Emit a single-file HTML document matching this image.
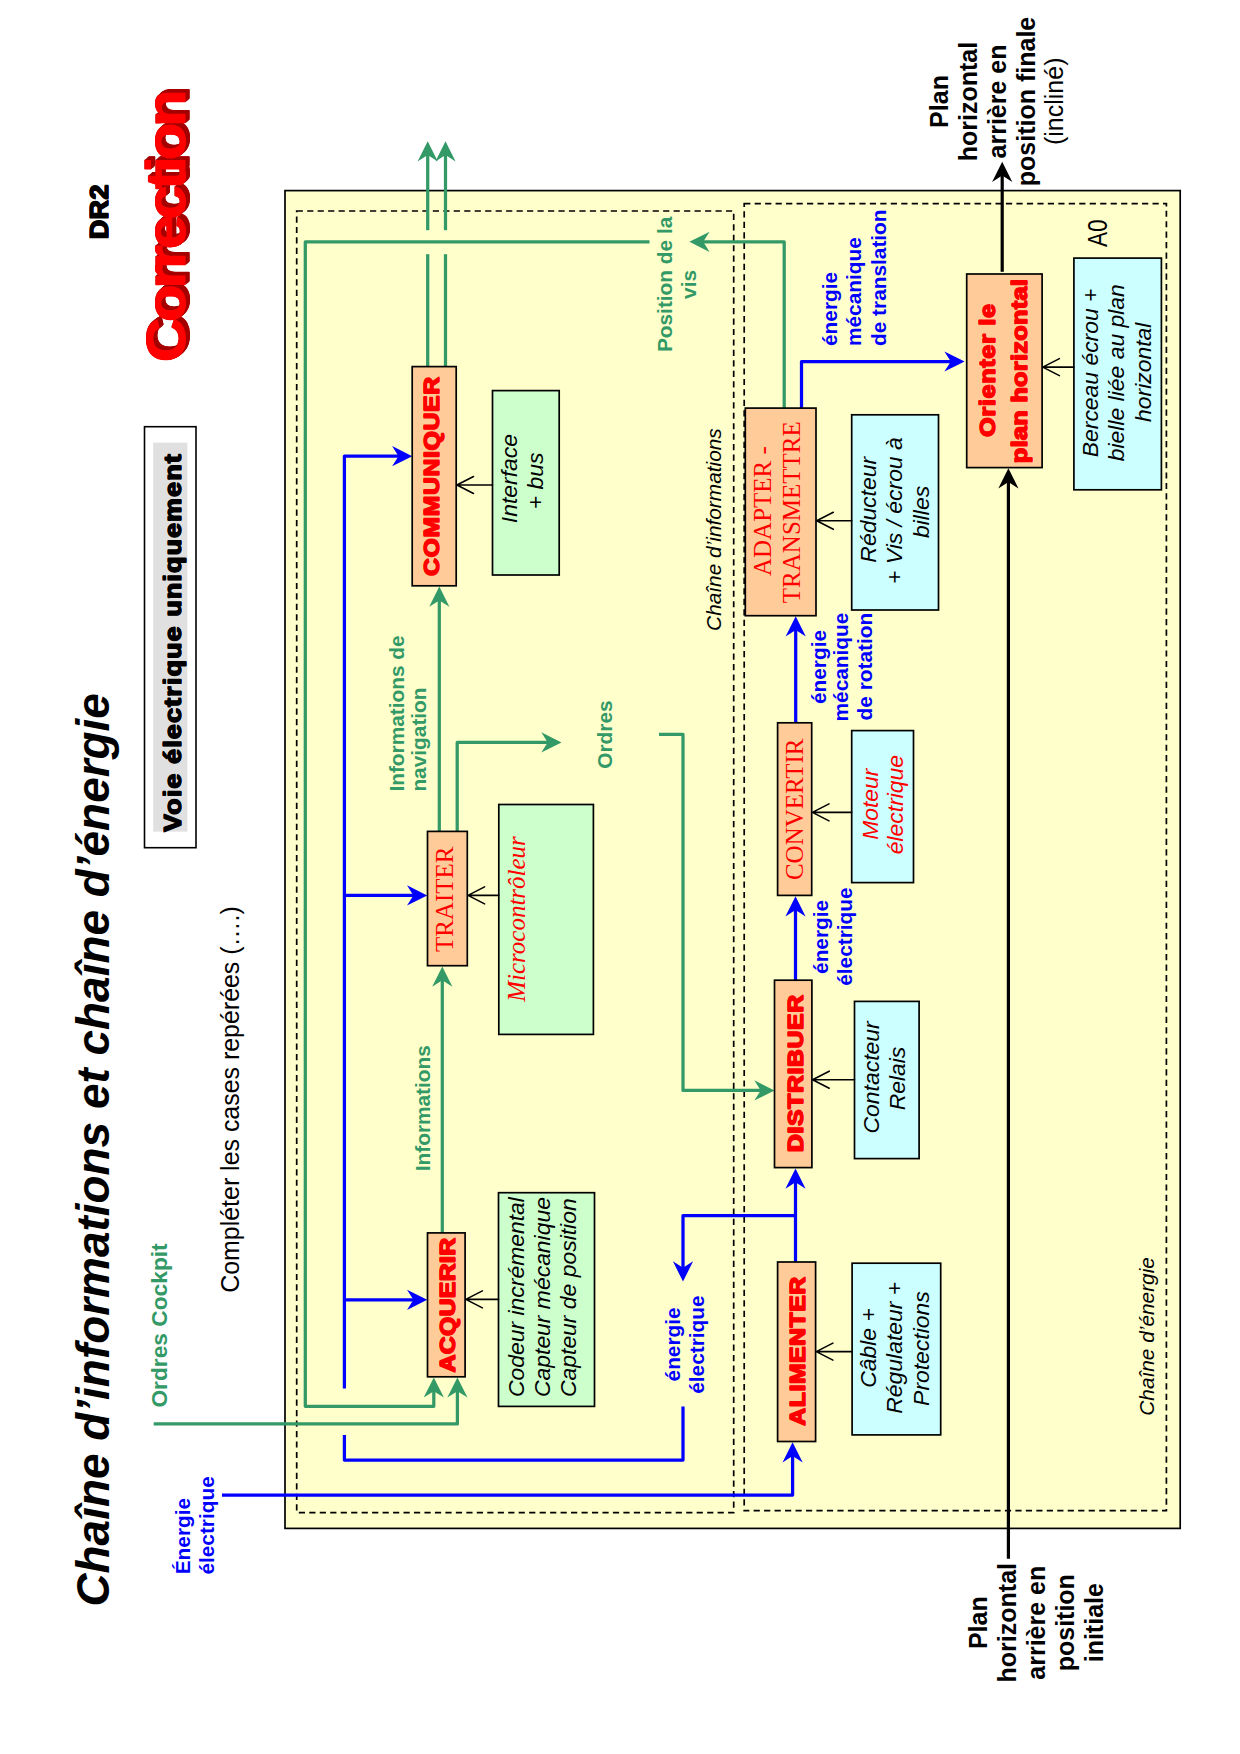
<!DOCTYPE html>
<html><head><meta charset="utf-8"><title>DR2</title>
<style>html,body{margin:0;padding:0;background:#fff}svg{display:block}text{white-space:pre}</style>
</head><body>
<svg width="1240" height="1754" viewBox="0 0 1240 1754">
<rect x="0" y="0" width="1240" height="1754" fill="#fff"/>
<rect x="285.00" y="190.60" width="895.20" height="1337.80" fill="#FFFFCC" stroke="#000" stroke-width="1.7" />
<rect x="296.70" y="211.00" width="437.00" height="1301.60" fill="none" stroke="#000" stroke-width="1.7" stroke-dasharray="6.2 4.27" stroke-linecap="butt"/>
<rect x="744.20" y="203.60" width="422.20" height="1307.10" fill="none" stroke="#000" stroke-width="1.7" stroke-dasharray="6.2 4.27" stroke-linecap="butt"/>
<polyline points="649.50,241.80 305.30,241.80 305.30,1406.30 433.80,1406.30 433.80,1389.40" fill="none" stroke="#339966" stroke-width="3.25" stroke-linejoin="round" />
<polygon points="433.80,1377.40 443.90,1397.60 433.80,1391.20 423.70,1397.60" fill="#339966"/>
<polyline points="153.70,1423.90 457.40,1423.90 457.40,1389.40" fill="none" stroke="#339966" stroke-width="3.25" stroke-linejoin="round" />
<polygon points="457.40,1377.40 467.50,1397.60 457.40,1391.20 447.30,1397.60" fill="#339966"/>
<polyline points="442.30,1233.00 442.30,978.50" fill="none" stroke="#339966" stroke-width="3.25" stroke-linejoin="round" />
<polygon points="442.30,966.50 452.40,986.70 442.30,980.30 432.20,986.70" fill="#339966"/>
<polyline points="439.30,831.50 439.30,598.60" fill="none" stroke="#339966" stroke-width="3.25" stroke-linejoin="round" />
<polygon points="439.30,586.60 449.40,606.80 439.30,600.40 429.20,606.80" fill="#339966"/>
<polyline points="457.20,831.50 457.20,742.40 549.50,742.40" fill="none" stroke="#339966" stroke-width="3.25" stroke-linejoin="round" />
<polygon points="561.50,742.40 541.30,732.30 547.70,742.40 541.30,752.50" fill="#339966"/>
<polyline points="427.70,366.60 427.70,254.20" fill="none" stroke="#339966" stroke-width="3.25" stroke-linejoin="round" />
<polyline points="427.70,230.20 427.70,153.30" fill="none" stroke="#339966" stroke-width="3.25" stroke-linejoin="round" />
<polygon points="427.70,141.30 437.80,161.50 427.70,155.10 417.60,161.50" fill="#339966"/>
<polyline points="445.50,366.60 445.50,254.20" fill="none" stroke="#339966" stroke-width="3.25" stroke-linejoin="round" />
<polyline points="445.50,230.20 445.50,153.30" fill="none" stroke="#339966" stroke-width="3.25" stroke-linejoin="round" />
<polygon points="445.50,141.30 455.60,161.50 445.50,155.10 435.40,161.50" fill="#339966"/>
<polyline points="659.00,734.30 683.00,734.30 683.00,1090.40 762.50,1090.40" fill="none" stroke="#339966" stroke-width="3.25" stroke-linejoin="round" />
<polygon points="774.50,1090.40 754.30,1080.30 760.70,1090.40 754.30,1100.50" fill="#339966"/>
<polyline points="784.20,408.00 784.20,241.80 701.40,241.80" fill="none" stroke="#339966" stroke-width="3.25" stroke-linejoin="round" />
<polygon points="689.40,241.80 709.60,231.70 703.20,241.80 709.60,251.90" fill="#339966"/>
<polyline points="222.00,1495.10 792.60,1495.10 792.60,1454.30" fill="none" stroke="#0000FF" stroke-width="3.25" stroke-linejoin="round" />
<polygon points="792.60,1442.30 802.70,1462.50 792.60,1456.10 782.50,1462.50" fill="#0000FF"/>
<polyline points="795.50,1262.00 795.50,1180.50" fill="none" stroke="#0000FF" stroke-width="3.25" stroke-linejoin="round" />
<polygon points="795.50,1168.50 805.60,1188.70 795.50,1182.30 785.40,1188.70" fill="#0000FF"/>
<polyline points="795.50,1215.60 683.00,1215.60 683.00,1269.50" fill="none" stroke="#0000FF" stroke-width="3.25" stroke-linejoin="round" />
<polygon points="683.00,1281.50 693.10,1261.30 683.00,1267.70 672.90,1261.30" fill="#0000FF"/>
<polyline points="683.00,1406.50 683.00,1460.00 344.40,1460.00 344.40,1435.00" fill="none" stroke="#0000FF" stroke-width="3.25" stroke-linejoin="round" />
<polyline points="344.40,1388.60 344.40,456.20 400.30,456.20" fill="none" stroke="#0000FF" stroke-width="3.25" stroke-linejoin="round" />
<polygon points="412.30,456.20 392.10,446.10 398.50,456.20 392.10,466.30" fill="#0000FF"/>
<polyline points="344.40,895.40 415.20,895.40" fill="none" stroke="#0000FF" stroke-width="3.25" stroke-linejoin="round" />
<polygon points="427.20,895.40 407.00,885.30 413.40,895.40 407.00,905.50" fill="#0000FF"/>
<polyline points="344.40,1299.80 415.20,1299.80" fill="none" stroke="#0000FF" stroke-width="3.25" stroke-linejoin="round" />
<polygon points="427.20,1299.80 407.00,1289.70 413.40,1299.80 407.00,1309.90" fill="#0000FF"/>
<polyline points="795.50,980.20 795.50,908.30" fill="none" stroke="#0000FF" stroke-width="3.25" stroke-linejoin="round" />
<polygon points="795.50,896.30 805.60,916.50 795.50,910.10 785.40,916.50" fill="#0000FF"/>
<polyline points="795.70,722.90 795.70,628.30" fill="none" stroke="#0000FF" stroke-width="3.25" stroke-linejoin="round" />
<polygon points="795.70,616.30 805.80,636.50 795.70,630.10 785.60,636.50" fill="#0000FF"/>
<polyline points="801.50,408.00 801.50,361.50 952.60,361.50" fill="none" stroke="#0000FF" stroke-width="3.25" stroke-linejoin="round" />
<polygon points="964.60,361.50 944.40,351.40 950.80,361.50 944.40,371.60" fill="#0000FF"/>
<polyline points="1008.40,1558.80 1008.40,480.30" fill="none" stroke="#000" stroke-width="3.2" stroke-linejoin="round" />
<polygon points="1008.40,468.30 1018.50,488.50 1008.40,482.10 998.30,488.50" fill="#000"/>
<polyline points="1002.20,271.80 1002.20,173.80" fill="none" stroke="#000" stroke-width="3.2" stroke-linejoin="round" />
<polygon points="1002.20,161.80 1012.30,182.00 1002.20,175.60 992.10,182.00" fill="#000"/>
<rect x="412.20" y="366.60" width="44.00" height="219.20" fill="#FFCC99" stroke="#000" stroke-width="1.7" />
<rect x="492.50" y="390.60" width="66.70" height="184.40" fill="#CCFFCC" stroke="#000" stroke-width="1.7" />
<rect x="427.50" y="831.40" width="39.80" height="134.30" fill="#FFCC99" stroke="#000" stroke-width="1.7" />
<rect x="498.80" y="804.50" width="94.60" height="229.90" fill="#CCFFCC" stroke="#000" stroke-width="1.7" />
<rect x="427.50" y="1232.90" width="37.60" height="143.90" fill="#FFCC99" stroke="#000" stroke-width="1.7" />
<rect x="498.50" y="1192.70" width="96.00" height="213.70" fill="#CCFFCC" stroke="#000" stroke-width="1.7" />
<rect x="745.30" y="408.10" width="70.70" height="207.60" fill="#FFCC99" stroke="#000" stroke-width="1.7" />
<rect x="851.70" y="414.80" width="86.80" height="195.20" fill="#CCFFFF" stroke="#000" stroke-width="1.7" />
<rect x="777.60" y="722.80" width="34.10" height="172.60" fill="#FFCC99" stroke="#000" stroke-width="1.7" />
<rect x="851.70" y="730.60" width="61.80" height="152.00" fill="#CCFFFF" stroke="#000" stroke-width="1.7" />
<rect x="774.50" y="980.20" width="37.40" height="187.40" fill="#FFCC99" stroke="#000" stroke-width="1.7" />
<rect x="854.50" y="1001.40" width="64.60" height="157.20" fill="#CCFFFF" stroke="#000" stroke-width="1.7" />
<rect x="777.60" y="1262.00" width="38.00" height="179.50" fill="#FFCC99" stroke="#000" stroke-width="1.7" />
<rect x="852.10" y="1263.20" width="88.60" height="171.70" fill="#CCFFFF" stroke="#000" stroke-width="1.7" />
<rect x="966.70" y="274.00" width="75.40" height="193.60" fill="#FFCC99" stroke="#000" stroke-width="1.7" />
<rect x="1073.90" y="258.10" width="87.50" height="231.70" fill="#CCFFFF" stroke="#000" stroke-width="1.7" />
<path d="M492.50,485.00 L456.90,485.00 M473.50,476.50 L456.90,485.00 L473.50,493.50" fill="none" stroke="#000" stroke-width="1.6" stroke-linecap="round" stroke-linejoin="round"/>
<path d="M498.80,895.40 L468.00,895.40 M484.60,886.90 L468.00,895.40 L484.60,903.90" fill="none" stroke="#000" stroke-width="1.6" stroke-linecap="round" stroke-linejoin="round"/>
<path d="M498.50,1299.40 L465.80,1299.40 M482.40,1290.90 L465.80,1299.40 L482.40,1307.90" fill="none" stroke="#000" stroke-width="1.6" stroke-linecap="round" stroke-linejoin="round"/>
<path d="M851.70,520.80 L816.70,520.80 M833.30,512.30 L816.70,520.80 L833.30,529.30" fill="none" stroke="#000" stroke-width="1.6" stroke-linecap="round" stroke-linejoin="round"/>
<path d="M851.70,812.40 L812.40,812.40 M829.00,803.90 L812.40,812.40 L829.00,820.90" fill="none" stroke="#000" stroke-width="1.6" stroke-linecap="round" stroke-linejoin="round"/>
<path d="M854.50,1079.70 L812.60,1079.70 M829.20,1071.20 L812.60,1079.70 L829.20,1088.20" fill="none" stroke="#000" stroke-width="1.6" stroke-linecap="round" stroke-linejoin="round"/>
<path d="M852.20,1351.60 L816.30,1351.60 M832.90,1343.10 L816.30,1351.60 L832.90,1360.10" fill="none" stroke="#000" stroke-width="1.6" stroke-linecap="round" stroke-linejoin="round"/>
<path d="M1073.90,367.10 L1042.80,367.10 M1059.40,358.60 L1042.80,367.10 L1059.40,375.60" fill="none" stroke="#000" stroke-width="1.6" stroke-linecap="round" stroke-linejoin="round"/>
<text transform="translate(109.40,1606.60) rotate(-90)" font-family='"Liberation Sans", sans-serif' font-size="45.833333333333336" fill="#000" text-anchor="start" font-weight="bold" font-style="italic" textLength="913.50" lengthAdjust="spacingAndGlyphs" >Chaîne d’informations et chaîne d’énergie</text>
<text transform="translate(189.30,358.40) rotate(-90) scale(1.1,1)" font-family='"Liberation Sans", sans-serif' font-size="55.9" fill="#A50000" text-anchor="start" font-weight="bold" stroke="#A50000" stroke-width="1.1" stroke-linejoin="round" letter-spacing="-3.85">Correction</text>
<text transform="translate(188.86,358.78) rotate(-90) scale(1.1,1)" font-family='"Liberation Sans", sans-serif' font-size="55.9" fill="#A50000" text-anchor="start" font-weight="bold" stroke="#A50000" stroke-width="1.1" stroke-linejoin="round" letter-spacing="-3.85">Correction</text>
<text transform="translate(188.42,359.16) rotate(-90) scale(1.1,1)" font-family='"Liberation Sans", sans-serif' font-size="55.9" fill="#A50000" text-anchor="start" font-weight="bold" stroke="#A50000" stroke-width="1.1" stroke-linejoin="round" letter-spacing="-3.85">Correction</text>
<text transform="translate(187.98,359.54) rotate(-90) scale(1.1,1)" font-family='"Liberation Sans", sans-serif' font-size="55.9" fill="#A50000" text-anchor="start" font-weight="bold" stroke="#A50000" stroke-width="1.1" stroke-linejoin="round" letter-spacing="-3.85">Correction</text>
<text transform="translate(187.54,359.92) rotate(-90) scale(1.1,1)" font-family='"Liberation Sans", sans-serif' font-size="55.9" fill="#A50000" text-anchor="start" font-weight="bold" stroke="#A50000" stroke-width="1.1" stroke-linejoin="round" letter-spacing="-3.85">Correction</text>
<text transform="translate(187.10,360.30) rotate(-90) scale(1.1,1)" font-family='"Liberation Sans", sans-serif' font-size="55.9" fill="#A50000" text-anchor="start" font-weight="bold" stroke="#A50000" stroke-width="1.1" stroke-linejoin="round" letter-spacing="-3.85">Correction</text>
<text transform="translate(186.66,360.68) rotate(-90) scale(1.1,1)" font-family='"Liberation Sans", sans-serif' font-size="55.9" fill="#A50000" text-anchor="start" font-weight="bold" stroke="#A50000" stroke-width="1.1" stroke-linejoin="round" letter-spacing="-3.85">Correction</text>
<text transform="translate(186.22,361.06) rotate(-90) scale(1.1,1)" font-family='"Liberation Sans", sans-serif' font-size="55.9" fill="#A50000" text-anchor="start" font-weight="bold" stroke="#A50000" stroke-width="1.1" stroke-linejoin="round" letter-spacing="-3.85">Correction</text>
<text transform="translate(185.78,361.44) rotate(-90) scale(1.1,1)" font-family='"Liberation Sans", sans-serif' font-size="55.9" fill="#A50000" text-anchor="start" font-weight="bold" stroke="#A50000" stroke-width="1.1" stroke-linejoin="round" letter-spacing="-3.85">Correction</text>
<text transform="translate(185.34,361.82) rotate(-90) scale(1.1,1)" font-family='"Liberation Sans", sans-serif' font-size="55.9" fill="#A50000" text-anchor="start" font-weight="bold" stroke="#A50000" stroke-width="1.1" stroke-linejoin="round" letter-spacing="-3.85">Correction</text>
<text transform="translate(184.90,362.20) rotate(-90) scale(1.1,1)" font-family='"Liberation Sans", sans-serif' font-size="55.9" fill="#FF0000" text-anchor="start" font-weight="bold" stroke="#FF0000" stroke-width="1.1" stroke-linejoin="round" letter-spacing="-3.85">Correction</text>
<rect x="144.50" y="426.70" width="51.50" height="421.00" fill="#fff" stroke="#000" stroke-width="1.6" />
<rect x="153.2" y="442.6" width="34.2" height="389.0" fill="#E0E0E0"/>
<text transform="translate(181.00,831.45) rotate(-90) scale(1.085,1)" font-family='"Liberation Sans", sans-serif' font-size="24.6" fill="#000" text-anchor="start" font-weight="bold" textLength="347.93" lengthAdjust="spacing" stroke="#000" stroke-width="0.9" stroke-linejoin="round" >Voie électrique uniquement</text>
<text transform="translate(181.00,832.15) rotate(-90) scale(1.085,1)" font-family='"Liberation Sans", sans-serif' font-size="24.6" fill="#000" text-anchor="start" font-weight="bold" textLength="347.93" lengthAdjust="spacing" stroke="#000" stroke-width="0.9" stroke-linejoin="round" >Voie électrique uniquement</text>
<text transform="translate(238.60,1292.80) rotate(-90)" font-family='"Liberation Sans", sans-serif' font-size="25.0" fill="#000" text-anchor="start" textLength="386.50" lengthAdjust="spacingAndGlyphs" >Compléter les cases repérées (….)</text>
<text transform="translate(166.80,1407.60) rotate(-90)" font-family='"Liberation Sans", sans-serif' font-size="22.916666666666668" fill="#339966" text-anchor="start" font-weight="bold" textLength="164.30" lengthAdjust="spacingAndGlyphs" >Ordres Cockpit</text>
<text transform="translate(190.40,1574.30) rotate(-90)" font-family='"Liberation Sans", sans-serif' font-size="20.833333333333336" fill="#0000FF" text-anchor="start" font-weight="bold" >Énergie</text>
<text transform="translate(214.20,1574.60) rotate(-90)" font-family='"Liberation Sans", sans-serif' font-size="20.833333333333336" fill="#0000FF" text-anchor="start" font-weight="bold" >électrique</text>
<text transform="translate(439.00,476.00) rotate(-90) scale(1.07,1)" font-family='"Liberation Sans", sans-serif' font-size="22.916666666666668" fill="#FF0000" text-anchor="middle" font-weight="bold" textLength="185.98" lengthAdjust="spacing" stroke="#FF0000" stroke-width="1.0" stroke-linejoin="round" >COMMUNIQUER</text>
<text transform="translate(439.00,476.80) rotate(-90) scale(1.07,1)" font-family='"Liberation Sans", sans-serif' font-size="22.916666666666668" fill="#FF0000" text-anchor="middle" font-weight="bold" textLength="185.98" lengthAdjust="spacing" stroke="#FF0000" stroke-width="1.0" stroke-linejoin="round" >COMMUNIQUER</text>
<text transform="translate(455.30,1304.70) rotate(-90) scale(1.07,1)" font-family='"Liberation Sans", sans-serif' font-size="22.916666666666668" fill="#FF0000" text-anchor="middle" font-weight="bold" textLength="125.51" lengthAdjust="spacing" stroke="#FF0000" stroke-width="1.0" stroke-linejoin="round" >ACQUERIR</text>
<text transform="translate(455.30,1305.50) rotate(-90) scale(1.07,1)" font-family='"Liberation Sans", sans-serif' font-size="22.916666666666668" fill="#FF0000" text-anchor="middle" font-weight="bold" textLength="125.51" lengthAdjust="spacing" stroke="#FF0000" stroke-width="1.0" stroke-linejoin="round" >ACQUERIR</text>
<text transform="translate(803.00,1073.10) rotate(-90) scale(1.07,1)" font-family='"Liberation Sans", sans-serif' font-size="22.916666666666668" fill="#FF0000" text-anchor="middle" font-weight="bold" textLength="146.73" lengthAdjust="spacing" stroke="#FF0000" stroke-width="1.0" stroke-linejoin="round" >DISTRIBUER</text>
<text transform="translate(803.00,1073.90) rotate(-90) scale(1.07,1)" font-family='"Liberation Sans", sans-serif' font-size="22.916666666666668" fill="#FF0000" text-anchor="middle" font-weight="bold" textLength="146.73" lengthAdjust="spacing" stroke="#FF0000" stroke-width="1.0" stroke-linejoin="round" >DISTRIBUER</text>
<text transform="translate(805.20,1350.80) rotate(-90) scale(1.07,1)" font-family='"Liberation Sans", sans-serif' font-size="22.916666666666668" fill="#FF0000" text-anchor="middle" font-weight="bold" textLength="138.97" lengthAdjust="spacing" stroke="#FF0000" stroke-width="1.0" stroke-linejoin="round" >ALIMENTER</text>
<text transform="translate(805.20,1351.60) rotate(-90) scale(1.07,1)" font-family='"Liberation Sans", sans-serif' font-size="22.916666666666668" fill="#FF0000" text-anchor="middle" font-weight="bold" textLength="138.97" lengthAdjust="spacing" stroke="#FF0000" stroke-width="1.0" stroke-linejoin="round" >ALIMENTER</text>
<text transform="translate(994.80,370.00) rotate(-90) scale(1.09,1)" font-family='"Liberation Sans", sans-serif' font-size="22.916666666666668" fill="#FF0000" text-anchor="middle" font-weight="bold" textLength="122.02" lengthAdjust="spacing" stroke="#FF0000" stroke-width="1.0" stroke-linejoin="round" >Orienter le</text>
<text transform="translate(994.80,370.80) rotate(-90) scale(1.09,1)" font-family='"Liberation Sans", sans-serif' font-size="22.916666666666668" fill="#FF0000" text-anchor="middle" font-weight="bold" textLength="122.02" lengthAdjust="spacing" stroke="#FF0000" stroke-width="1.0" stroke-linejoin="round" >Orienter le</text>
<text transform="translate(1026.80,370.70) rotate(-90) scale(1.09,1)" font-family='"Liberation Sans", sans-serif' font-size="22.916666666666668" fill="#FF0000" text-anchor="middle" font-weight="bold" textLength="168.81" lengthAdjust="spacing" stroke="#FF0000" stroke-width="1.0" stroke-linejoin="round" >plan horizontal</text>
<text transform="translate(1026.80,371.50) rotate(-90) scale(1.09,1)" font-family='"Liberation Sans", sans-serif' font-size="22.916666666666668" fill="#FF0000" text-anchor="middle" font-weight="bold" textLength="168.81" lengthAdjust="spacing" stroke="#FF0000" stroke-width="1.0" stroke-linejoin="round" >plan horizontal</text>
<text transform="translate(108.40,211.45) rotate(-90) scale(1.07,1)" font-family='"Liberation Sans", sans-serif' font-size="25.0" fill="#000" text-anchor="middle" font-weight="bold" textLength="50.93" lengthAdjust="spacing" stroke="#000" stroke-width="1.0" stroke-linejoin="round" >DR2</text>
<text transform="translate(108.40,212.25) rotate(-90) scale(1.07,1)" font-family='"Liberation Sans", sans-serif' font-size="25.0" fill="#000" text-anchor="middle" font-weight="bold" textLength="50.93" lengthAdjust="spacing" stroke="#000" stroke-width="1.0" stroke-linejoin="round" >DR2</text>
<text transform="translate(453.20,899.30) rotate(-90)" font-family='"Liberation Serif", serif' font-size="25.0" fill="#FF0000" text-anchor="middle" >TRAITER</text>
<text transform="translate(803.10,809.30) rotate(-90)" font-family='"Liberation Serif", serif' font-size="25.0" fill="#FF0000" text-anchor="middle" >CONVERTIR</text>
<text transform="translate(771.20,511.10) rotate(-90)" font-family='"Liberation Serif", serif' font-size="25.0" fill="#FF0000" text-anchor="middle" >ADAPTER -</text>
<text transform="translate(800.30,512.20) rotate(-90)" font-family='"Liberation Serif", serif' font-size="25.0" fill="#FF0000" text-anchor="middle" >TRANSMETTRE</text>
<text transform="translate(524.80,919.00) rotate(-90)" font-family='"Liberation Serif", serif' font-size="25.0" fill="#FF0000" text-anchor="middle" font-style="italic" >Microcontrôleur</text>
<text transform="translate(517.10,478.60) rotate(-90)" font-family='"Liberation Sans", sans-serif' font-size="22.916666666666668" fill="#000" text-anchor="middle" font-style="italic" >Interface</text>
<text transform="translate(542.90,481.00) rotate(-90)" font-family='"Liberation Sans", sans-serif' font-size="22.916666666666668" fill="#000" text-anchor="middle" font-style="italic" >+ bus</text>
<text transform="translate(523.80,1397.00) rotate(-90)" font-family='"Liberation Sans", sans-serif' font-size="22.916666666666668" fill="#000" text-anchor="start" font-style="italic" >Codeur incrémental</text>
<text transform="translate(550.10,1397.00) rotate(-90)" font-family='"Liberation Sans", sans-serif' font-size="22.916666666666668" fill="#000" text-anchor="start" font-style="italic" >Capteur mécanique</text>
<text transform="translate(576.30,1397.00) rotate(-90)" font-family='"Liberation Sans", sans-serif' font-size="22.916666666666668" fill="#000" text-anchor="start" font-style="italic" >Capteur de position</text>
<text transform="translate(875.60,509.80) rotate(-90)" font-family='"Liberation Sans", sans-serif' font-size="22.916666666666668" fill="#000" text-anchor="middle" font-style="italic" >Réducteur</text>
<text transform="translate(902.10,510.60) rotate(-90)" font-family='"Liberation Sans", sans-serif' font-size="22.916666666666668" fill="#000" text-anchor="middle" font-style="italic" >+ Vis / écrou à</text>
<text transform="translate(929.00,512.00) rotate(-90)" font-family='"Liberation Sans", sans-serif' font-size="22.916666666666668" fill="#000" text-anchor="middle" font-style="italic" >billes</text>
<text transform="translate(877.70,804.20) rotate(-90)" font-family='"Liberation Sans", sans-serif' font-size="22.916666666666668" fill="#FF0000" text-anchor="middle" font-style="italic" >Moteur</text>
<text transform="translate(903.30,804.60) rotate(-90)" font-family='"Liberation Sans", sans-serif' font-size="22.916666666666668" fill="#FF0000" text-anchor="middle" font-style="italic" >électrique</text>
<text transform="translate(879.00,1077.40) rotate(-90)" font-family='"Liberation Sans", sans-serif' font-size="22.916666666666668" fill="#000" text-anchor="middle" font-style="italic" >Contacteur</text>
<text transform="translate(905.20,1078.50) rotate(-90)" font-family='"Liberation Sans", sans-serif' font-size="22.916666666666668" fill="#000" text-anchor="middle" font-style="italic" >Relais</text>
<text transform="translate(876.10,1348.00) rotate(-90)" font-family='"Liberation Sans", sans-serif' font-size="22.916666666666668" fill="#000" text-anchor="middle" font-style="italic" >Câble +</text>
<text transform="translate(902.40,1347.80) rotate(-90)" font-family='"Liberation Sans", sans-serif' font-size="22.916666666666668" fill="#000" text-anchor="middle" font-style="italic" >Régulateur +</text>
<text transform="translate(929.30,1348.60) rotate(-90)" font-family='"Liberation Sans", sans-serif' font-size="22.916666666666668" fill="#000" text-anchor="middle" font-style="italic" >Protections</text>
<text transform="translate(1097.70,372.90) rotate(-90)" font-family='"Liberation Sans", sans-serif' font-size="22.916666666666668" fill="#000" text-anchor="middle" font-style="italic" >Berceau écrou +</text>
<text transform="translate(1124.00,372.70) rotate(-90)" font-family='"Liberation Sans", sans-serif' font-size="22.916666666666668" fill="#000" text-anchor="middle" font-style="italic" >bielle liée au plan</text>
<text transform="translate(1150.60,372.30) rotate(-90)" font-family='"Liberation Sans", sans-serif' font-size="22.916666666666668" fill="#000" text-anchor="middle" font-style="italic" >horizontal</text>
<text transform="translate(404.30,791.60) rotate(-90)" font-family='"Liberation Sans", sans-serif' font-size="20.833333333333336" fill="#339966" text-anchor="start" font-weight="bold" >Informations de</text>
<text transform="translate(426.40,791.60) rotate(-90)" font-family='"Liberation Sans", sans-serif' font-size="20.833333333333336" fill="#339966" text-anchor="start" font-weight="bold" >navigation</text>
<text transform="translate(430.30,1108.20) rotate(-90)" font-family='"Liberation Sans", sans-serif' font-size="20.833333333333336" fill="#339966" text-anchor="middle" font-weight="bold" >Informations</text>
<text transform="translate(612.00,734.60) rotate(-90)" font-family='"Liberation Sans", sans-serif' font-size="20.833333333333336" fill="#339966" text-anchor="middle" font-weight="bold" >Ordres</text>
<text transform="translate(672.00,284.40) rotate(-90)" font-family='"Liberation Sans", sans-serif' font-size="20.833333333333336" fill="#339966" text-anchor="middle" font-weight="bold" >Position de la</text>
<text transform="translate(696.30,284.40) rotate(-90)" font-family='"Liberation Sans", sans-serif' font-size="20.833333333333336" fill="#339966" text-anchor="middle" font-weight="bold" >vis</text>
<text transform="translate(680.20,1344.40) rotate(-90)" font-family='"Liberation Sans", sans-serif' font-size="20.833333333333336" fill="#0000FF" text-anchor="middle" font-weight="bold" >énergie</text>
<text transform="translate(704.10,1344.60) rotate(-90)" font-family='"Liberation Sans", sans-serif' font-size="20.833333333333336" fill="#0000FF" text-anchor="middle" font-weight="bold" >électrique</text>
<text transform="translate(827.50,936.90) rotate(-90)" font-family='"Liberation Sans", sans-serif' font-size="20.833333333333336" fill="#0000FF" text-anchor="middle" font-weight="bold" >énergie</text>
<text transform="translate(852.30,936.60) rotate(-90)" font-family='"Liberation Sans", sans-serif' font-size="20.833333333333336" fill="#0000FF" text-anchor="middle" font-weight="bold" >électrique</text>
<text transform="translate(825.50,667.00) rotate(-90)" font-family='"Liberation Sans", sans-serif' font-size="20.833333333333336" fill="#0000FF" text-anchor="middle" font-weight="bold" >énergie</text>
<text transform="translate(848.30,667.00) rotate(-90)" font-family='"Liberation Sans", sans-serif' font-size="20.833333333333336" fill="#0000FF" text-anchor="middle" font-weight="bold" >mécanique</text>
<text transform="translate(871.50,666.60) rotate(-90)" font-family='"Liberation Sans", sans-serif' font-size="20.833333333333336" fill="#0000FF" text-anchor="middle" font-weight="bold" >de rotation</text>
<text transform="translate(837.10,346.00) rotate(-90)" font-family='"Liberation Sans", sans-serif' font-size="20.833333333333336" fill="#0000FF" text-anchor="start" font-weight="bold" >énergie</text>
<text transform="translate(860.80,346.00) rotate(-90)" font-family='"Liberation Sans", sans-serif' font-size="20.833333333333336" fill="#0000FF" text-anchor="start" font-weight="bold" >mécanique</text>
<text transform="translate(885.60,346.00) rotate(-90)" font-family='"Liberation Sans", sans-serif' font-size="20.833333333333336" fill="#0000FF" text-anchor="start" font-weight="bold" >de translation</text>
<text transform="translate(721.30,529.60) rotate(-90)" font-family='"Liberation Sans", sans-serif' font-size="20.833333333333336" fill="#000" text-anchor="middle" font-style="italic" >Chaîne d’informations</text>
<text transform="translate(1154.40,1336.40) rotate(-90)" font-family='"Liberation Sans", sans-serif' font-size="20.833333333333336" fill="#000" text-anchor="middle" font-style="italic" >Chaîne d’énergie</text>
<text transform="translate(1107.00,233.20) rotate(-90)" font-family='"Liberation Sans", sans-serif' font-size="27.5" fill="#000" text-anchor="middle" textLength="27.70" lengthAdjust="spacingAndGlyphs" >A0</text>
<text transform="translate(948.40,101.50) rotate(-90)" font-family='"Liberation Sans", sans-serif' font-size="25.0" fill="#000" text-anchor="middle" font-weight="bold" >Plan</text>
<text transform="translate(977.15,101.50) rotate(-90)" font-family='"Liberation Sans", sans-serif' font-size="25.0" fill="#000" text-anchor="middle" font-weight="bold" >horizontal</text>
<text transform="translate(1005.90,101.50) rotate(-90)" font-family='"Liberation Sans", sans-serif' font-size="25.0" fill="#000" text-anchor="middle" font-weight="bold" >arrière en</text>
<text transform="translate(1034.65,101.50) rotate(-90)" font-family='"Liberation Sans", sans-serif' font-size="25.0" fill="#000" text-anchor="middle" font-weight="bold" >position finale</text>
<text transform="translate(1063.40,101.30) rotate(-90)" font-family='"Liberation Sans", sans-serif' font-size="25.0" fill="#000" text-anchor="middle" >(incliné)</text>
<text transform="translate(986.50,1622.70) rotate(-90)" font-family='"Liberation Sans", sans-serif' font-size="25.0" fill="#000" text-anchor="middle" font-weight="bold" >Plan</text>
<text transform="translate(1015.60,1622.70) rotate(-90)" font-family='"Liberation Sans", sans-serif' font-size="25.0" fill="#000" text-anchor="middle" font-weight="bold" >horizontal</text>
<text transform="translate(1044.70,1622.70) rotate(-90)" font-family='"Liberation Sans", sans-serif' font-size="25.0" fill="#000" text-anchor="middle" font-weight="bold" >arrière en</text>
<text transform="translate(1073.80,1622.70) rotate(-90)" font-family='"Liberation Sans", sans-serif' font-size="25.0" fill="#000" text-anchor="middle" font-weight="bold" >position</text>
<text transform="translate(1102.90,1622.70) rotate(-90)" font-family='"Liberation Sans", sans-serif' font-size="25.0" fill="#000" text-anchor="middle" font-weight="bold" >initiale</text>
</svg>
</body></html>
